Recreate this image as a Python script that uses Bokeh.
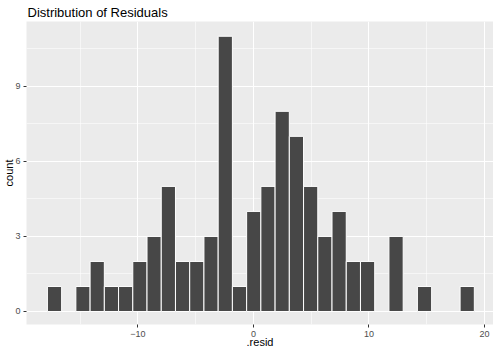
from bokeh.plotting import figure
from bokeh.models import FixedTicker, Range1d, ColumnDataSource
from bokeh.embed import file_html
from bokeh.resources import INLINE

# Histogram of residuals (30 bins)
first_edge = -17.84
bin_width = 1.232
counts = [1, 0, 1, 2, 1, 1, 2, 3, 5, 2, 2, 3, 11, 1, 4,
          5, 8, 7, 5, 3, 4, 2, 2, 0, 3, 0, 1, 0, 0, 1]
x_ticks = [-10, 0, 10, 20]
x_minor = [-15, -5, 5, 15]
y_ticks = [0, 3, 6, 9]
y_minor = [1.5, 4.5, 7.5, 10.5]

lefts = [first_edge + i * bin_width for i in range(len(counts))]
rights = [l + bin_width for l in lefts]
src = ColumnDataSource(dict(left=lefts, right=rights, top=counts, bottom=[0] * len(counts)))

FONT = "Liberation Sans"

p = figure(frame_width=467, frame_height=303, output_backend="svg", toolbar_location=None,
           x_range=Range1d(-19.65, 20.78), y_range=Range1d(-0.52, 11.59),
           min_border_left=0, min_border_right=0, min_border_top=0, min_border_bottom=0,
           title="Distribution of Residuals")
p.title.text_font = FONT
p.title.text_font_size = "13px"
p.title.text_font_style = "normal"
p.title.text_color = "black"
p.title.align = "left"
p.title.standoff = 4
p.title.offset = 1

p.outline_line_color = None
p.background_fill_color = "#EBEBEB"
p.border_fill_color = "white"

p.quad(left="left", right="right", top="top", bottom="bottom", source=src,
       fill_color="#474747", line_color="white", line_width=1)

p.xaxis.ticker = FixedTicker(ticks=x_ticks, minor_ticks=x_minor)
p.yaxis.ticker = FixedTicker(ticks=y_ticks, minor_ticks=y_minor)
p.xaxis.axis_label = ".resid"
p.yaxis.axis_label = "count"

for ax in (p.xaxis, p.yaxis):
    ax.axis_line_color = None
    ax.major_tick_line_color = "#333333"
    ax.major_tick_out = 3
    ax.major_tick_in = 0
    ax.minor_tick_line_color = None
    ax.major_label_text_font = FONT
    ax.major_label_text_font_size = "9px"
    ax.major_label_text_color = "#4D4D4D"
    ax.major_label_standoff = 2
    ax.axis_label_text_font = FONT
    ax.axis_label_text_font_size = "11px"
    ax.axis_label_text_font_style = "normal"
    ax.axis_label_text_color = "black"
p.xaxis.axis_label_standoff = -4
p.yaxis.axis_label_standoff = -3

for g in (p.xgrid, p.ygrid):
    g.grid_line_color = "white"
    g.grid_line_width = 1.1
    g.minor_grid_line_color = "white"
    g.minor_grid_line_width = 0.55

open("out.html", "w").write(file_html(p, INLINE))
